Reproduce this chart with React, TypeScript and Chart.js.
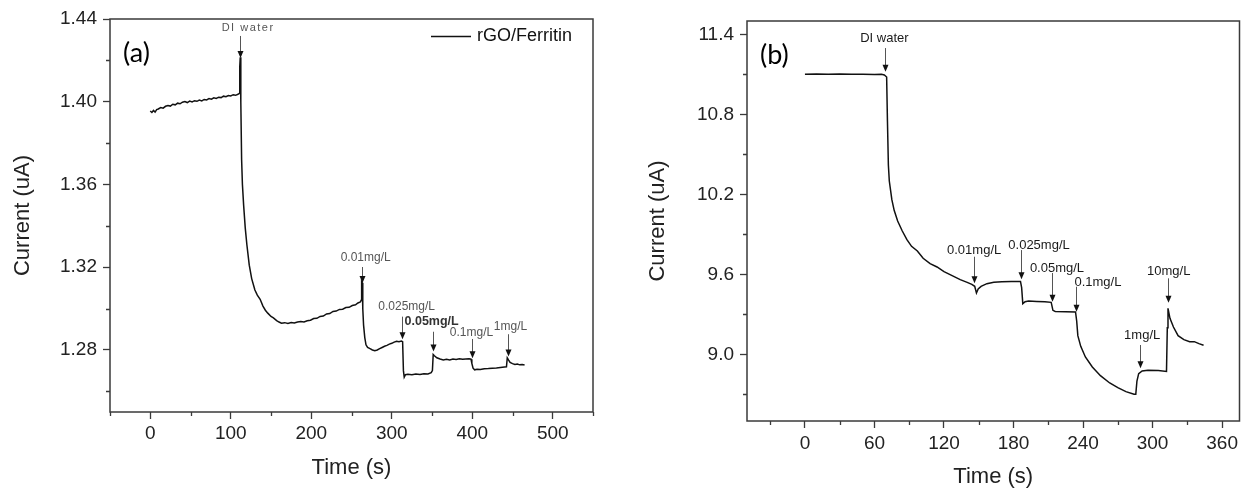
import React, { useEffect, useRef } from "react";
import { Chart, registerables } from "chart.js";

Chart.register(...registerables);

// ---------------- Panel (a): rGO/Ferritin ----------------
const seriesA: [number, number][] = [
  [0, 1.3955], [2, 1.3948], [4, 1.3958], [6, 1.395], [8, 1.3962], [10, 1.3965], [13, 1.3972], [16, 1.3969],
  [19, 1.3978], [22, 1.3982], [25, 1.3979], [28, 1.3988], [31, 1.3985], [34, 1.3993], [37, 1.399], [40, 1.3998],
  [43, 1.4001], [46, 1.3996], [49, 1.4003], [52, 1.3999], [55, 1.4005], [58, 1.4002], [61, 1.4008], [64, 1.4004],
  [67, 1.4011], [70, 1.4009], [73, 1.4015], [76, 1.4012], [79, 1.4019], [82, 1.4016], [85, 1.4022], [88, 1.402],
  [91, 1.4027], [94, 1.4024], [97, 1.403], [100, 1.4028], [103, 1.4034], [106, 1.4031], [109, 1.4036], [110.5, 1.404],
  [111.2, 1.417], [111.8, 1.4215], [112.5, 1.4], [113.5, 1.372], [114.5, 1.36], [116, 1.35], [118, 1.339], [120, 1.331],
  [123, 1.321], [126, 1.3145], [130, 1.309], [133, 1.3065], [136.5, 1.3045], [140, 1.3012], [143, 1.2992], [146, 1.2978],
  [150, 1.2962], [153, 1.2955], [157, 1.2942], [160, 1.2935], [163, 1.2929], [167, 1.2932], [171, 1.2928], [175, 1.2933],
  [179, 1.293], [183, 1.2935], [187, 1.2937], [191, 1.2935], [195, 1.2941], [199, 1.2944], [203, 1.2952], [207, 1.2953],
  [211, 1.2962], [215, 1.2964], [219, 1.2974], [223, 1.2976], [227, 1.2986], [231, 1.2988], [235, 1.2996], [239, 1.2997],
  [243, 1.3005], [247, 1.3006], [251, 1.3015], [255, 1.3018], [258, 1.3027], [261, 1.3032], [262, 1.304], [262.6, 1.313],
  [263.3, 1.3125], [264, 1.3], [265, 1.292], [266.5, 1.286], [268, 1.2825], [270, 1.2812], [273, 1.2806], [276, 1.28],
  [279, 1.2796], [282, 1.28], [285, 1.2806], [288, 1.2812], [291, 1.2818], [294, 1.2822], [297, 1.2828], [300, 1.2832],
  [303, 1.2838], [306, 1.2842], [309, 1.284], [312, 1.2843], [313.5, 1.284], [314.5, 1.27], [315.5, 1.2668], [317, 1.268],
  [320, 1.2682], [325, 1.268], [330, 1.2684], [335, 1.2681], [340, 1.2685], [345, 1.2684], [349, 1.269], [350.5, 1.27],
  [351.5, 1.2778], [353, 1.2772], [356, 1.2762], [360, 1.2756], [364, 1.2752], [368, 1.2755], [372, 1.2752], [376, 1.2756],
  [380, 1.2754], [384, 1.2757], [388, 1.2755], [392, 1.2756], [396, 1.2757], [398.5, 1.2755], [399.5, 1.2735], [401, 1.2712],
  [403, 1.2704], [406, 1.2707], [410, 1.2705], [415, 1.2709], [420, 1.271], [425, 1.2712], [430, 1.2713], [435, 1.2715],
  [440, 1.2717], [442.5, 1.2718], [443.5, 1.2762], [445, 1.2752], [447, 1.274], [450, 1.2734], [453, 1.273], [456, 1.2732],
  [459, 1.2728], [462, 1.273], [465, 1.2727],
];
const xMajorA = [0, 100, 200, 300, 400, 500];
const xMinorA = [-50, 50, 150, 250, 350, 450, 550];
const yMajorA = [1.28, 1.32, 1.36, 1.4, 1.44];
const yMinorA = [1.26, 1.3, 1.34, 1.38, 1.42];
const annLabelsA = ["DI water", "0.01mg/L", "0.025mg/L", "0.05mg/L", "0.1mg/L", "1mg/L"];
const annTimeA = [111.7, 262.7, 312.3, 351.5, 399.9, 444.5];
const annTipA = [1.4212, 1.3124, 1.2852, 1.2792, 1.276, 1.2768];
const annTailA = [1.4318, 1.3201, 1.2961, 1.2888, 1.2853, 1.2876];
const annTextTimeA = [121.6, 267.6, 318.5, 349.5, 399.1, 447.5];
const annTextValA = [1.4357, 1.3248, 1.3007, 1.2936, 1.2882, 1.2912];

// ---------------- Panel (b) ----------------
const seriesB: [number, number][] = [
  [0, 11.1], [10, 11.102], [20, 11.101], [30, 11.103], [40, 11.1], [50, 11.101], [60, 11.099], [66, 11.1],
  [68.5, 11.095], [70.5, 11.08], [71.2, 10.75], [72, 10.42], [72.8, 10.3], [75, 10.16], [77, 10.08], [80, 10.0],
  [84, 9.925], [88, 9.86], [92, 9.81], [97, 9.775], [102, 9.72], [108, 9.68], [114, 9.655], [120, 9.62],
  [127, 9.59], [134, 9.56], [140, 9.54], [144, 9.525], [146.5, 9.51], [148, 9.46], [149.5, 9.49], [152, 9.51],
  [157, 9.53], [163, 9.54], [170, 9.545], [178, 9.547], [186, 9.547], [187, 9.5], [188, 9.38], [190, 9.395],
  [193, 9.4], [200, 9.397], [207, 9.395], [212.5, 9.39], [214, 9.33], [216, 9.322], [225, 9.32], [233.5, 9.318],
  [234.5, 9.25], [235.5, 9.14], [238, 9.06], [242, 8.98], [248, 8.905], [255, 8.84], [263, 8.785], [270, 8.75],
  [277, 8.72], [284, 8.7], [285.5, 8.7], [286.5, 8.8], [288, 8.855], [291, 8.875], [296, 8.88], [305, 8.878],
  [312, 8.872], [312.7, 9.2], [313.3, 9.345], [315, 9.27], [318, 9.205], [322, 9.14], [327, 9.11], [332, 9.095],
  [336, 9.095], [340, 9.08], [344, 9.068],
];
const xMajorB = [0, 60, 120, 180, 240, 300, 360];
const xMinorB = [-30, 30, 90, 150, 210, 270, 330];
const yMajorB = [9.0, 9.6, 10.2, 10.8, 11.4];
const yMinorB = [8.7, 9.3, 9.9, 10.5, 11.1];
const annLabelsB = ["DI water", "0.01mg/L", "0.025mg/L", "0.05mg/L", "0.1mg/L", "1mg/L", "10mg/L"];
const annTimeB = [69.4, 146.3, 186.5, 213.4, 233.6, 288.9, 313.3];
const annTipB = [11.12, 9.533, 9.5625, 9.395, 9.32, 8.895, 9.387];
const annTailB = [11.297, 9.732, 9.782, 9.61, 9.507, 9.07, 9.57];
const annTextTimeB = [68.6, 146.0, 202.0, 217.5, 252.8, 291.0, 313.9];
const annTextValB = [11.372, 9.777, 9.82, 9.645, 9.54, 9.14, 9.62];

const FONT = "'Liberation Sans', Arial, sans-serif";
const AXIS = "#3a3a3a";

type PanelCfg = {
  series: [number, number][];
  xMin: number; xMax: number; yMin: number; yMax: number;
  xMajor: number[]; xMinor: number[]; yMajor: number[]; yMinor: number[];
  yDecimals: number;
  ann: { labels: string[]; time: number[]; tip: number[]; tail: number[]; textTime: number[]; textVal: number[] };
  annFont: number; annColor: string; annStyle: Record<string, { font?: string; color?: string; spacing?: string }>;
  panelLabel: string;
  legend?: string;
  width: number; left: number;
  padTop: number; padRight: number; yWidth: number; xHeight: number;
  yTitlePad: number; xTitlePad: number; xTickPad: number;
};

function makePlugin(cfg: PanelCfg) {
  return {
    id: "decor",
    afterDraw(chart: any) {
      const { ctx, chartArea: ca, scales } = chart;
      const xs = scales.x, ys = scales.y;
      ctx.save();
      // frame
      ctx.strokeStyle = AXIS;
      ctx.lineWidth = 1.5;
      ctx.strokeRect(ca.left, ca.top, ca.right - ca.left, ca.bottom - ca.top);
      // minor ticks
      ctx.lineWidth = 1.3;
      ctx.beginPath();
      for (const v of cfg.xMinor) {
        const px = Math.round(xs.getPixelForValue(v)) + 0.5;
        ctx.moveTo(px, ca.bottom);
        ctx.lineTo(px, ca.bottom + 4);
      }
      for (const v of cfg.yMinor) {
        const py = Math.round(ys.getPixelForValue(v)) + 0.5;
        ctx.moveTo(ca.left, py);
        ctx.lineTo(ca.left - 4, py);
      }
      ctx.stroke();
      // annotations
      const a = cfg.ann;
      for (let i = 0; i < a.labels.length; i++) {
        const x = Math.round(xs.getPixelForValue(a.time[i])) + 0.5;
        const yTip = ys.getPixelForValue(a.tip[i]);
        const yTail = ys.getPixelForValue(a.tail[i]);
        ctx.strokeStyle = "#555";
        ctx.lineWidth = 1;
        ctx.beginPath();
        ctx.moveTo(x, yTail);
        ctx.lineTo(x, yTip - 6);
        ctx.stroke();
        ctx.fillStyle = "#111";
        ctx.beginPath();
        ctx.moveTo(x - 3, yTip - 7);
        ctx.lineTo(x + 3, yTip - 7);
        ctx.lineTo(x, yTip);
        ctx.closePath();
        ctx.fill();
        const st = cfg.annStyle[a.labels[i]] || {};
        ctx.font = st.font || `${cfg.annFont}px ${FONT}`;
        ctx.fillStyle = st.color || cfg.annColor;
        (ctx as any).letterSpacing = st.spacing || "0px";
        ctx.textAlign = "center";
        ctx.textBaseline = "middle";
        ctx.fillText(a.labels[i], xs.getPixelForValue(a.textTime[i]), ys.getPixelForValue(a.textVal[i]));
        (ctx as any).letterSpacing = "0px";
      }
      // panel label
      ctx.fillStyle = "#000";
      ctx.font = `27px Lato, 'Open Sans', sans-serif`;
      ctx.textAlign = "left";
      ctx.textBaseline = "middle";
      ctx.fillText(cfg.panelLabel, ca.left + 13, ca.top + 34);
      // legend
      if (cfg.legend) {
        const ly = ca.top + 17.5;
        ctx.strokeStyle = "#111";
        ctx.lineWidth = 1.5;
        ctx.beginPath();
        ctx.moveTo(ca.right - 162, ly);
        ctx.lineTo(ca.right - 122, ly);
        ctx.stroke();
        ctx.font = `18px ${FONT}`;
        ctx.fillStyle = "#111";
        ctx.textAlign = "left";
        ctx.fillText(cfg.legend, ca.right - 116, ly);
      }
      ctx.restore();
    },
  };
}

function Panel({ cfg }: { cfg: PanelCfg }) {
  const ref = useRef<HTMLCanvasElement>(null);
  useEffect(() => {
    const tickFont = { family: FONT, size: 19 };
    const titleFont = { family: FONT, size: 22, lineHeight: 1 };
    const chart = new Chart(ref.current!, {
      type: "line",
      data: {
        datasets: [
          {
            label: cfg.legend || "series",
            data: cfg.series.map(([x, y]) => ({ x, y })),
            borderColor: "#111",
            borderWidth: 1.5,
            pointRadius: 0,
            fill: false,
            tension: 0,
          },
        ],
      },
      options: {
        responsive: false,
        animation: false,
        devicePixelRatio: 1,
        layout: { padding: { top: cfg.padTop, right: cfg.padRight, left: 0, bottom: 0 } },
        plugins: { legend: { display: false }, tooltip: { enabled: false } },
        scales: {
          x: {
            type: "linear",
            min: cfg.xMin,
            max: cfg.xMax,
            afterBuildTicks: (s: any) => { s.ticks = cfg.xMajor.map((v) => ({ value: v })); },
            afterFit: (s: any) => { s.height = cfg.xHeight; },
            grid: { display: true, drawOnChartArea: false, drawTicks: true, tickLength: 7, tickColor: AXIS, tickWidth: 1.3 },
            border: { display: false },
            ticks: { padding: cfg.xTickPad, color: "#222", font: tickFont, maxRotation: 0, autoSkip: false, callback: (v: any) => String(v) },
            title: { display: true, text: "Time (s)", color: "#222", font: titleFont, padding: { top: 0, bottom: cfg.xTitlePad } },
          },
          y: {
            type: "linear",
            min: cfg.yMin,
            max: cfg.yMax,
            afterBuildTicks: (s: any) => { s.ticks = cfg.yMajor.map((v) => ({ value: v })); },
            afterFit: (s: any) => { s.width = cfg.yWidth; },
            grid: { display: true, drawOnChartArea: false, drawTicks: true, tickLength: 7, tickColor: AXIS, tickWidth: 1.3 },
            border: { display: false },
            ticks: { padding: 6, color: "#222", font: tickFont, autoSkip: false, callback: (v: any) => Number(v).toFixed(cfg.yDecimals) },
            title: { display: true, text: "Current (uA)", color: "#222", font: titleFont, padding: { top: cfg.yTitlePad, bottom: 0 } },
          },
        },
      },
      plugins: [makePlugin(cfg)],
    } as any);
    return () => chart.destroy();
  }, [cfg]);
  return (
    <canvas
      ref={ref}
      width={cfg.width}
      height={488}
      style={{ position: "absolute", left: cfg.left, top: 0, width: cfg.width, height: 488 }}
    />
  );
}

const cfgA: PanelCfg = {
  series: seriesA,
  xMin: -50, xMax: 550, yMin: 1.25, yMax: 1.44,
  xMajor: xMajorA, xMinor: xMinorA, yMajor: yMajorA, yMinor: yMinorA,
  yDecimals: 2,
  ann: { labels: annLabelsA, time: annTimeA, tip: annTipA, tail: annTailA, textTime: annTextTimeA, textVal: annTextValA },
  annFont: 12, annColor: "#555",
  annStyle: {
    "DI water": { font: `11px ${FONT}`, spacing: "1.5px" },
    "0.05mg/L": { font: `bold 12.5px ${FONT}`, color: "#333" },
  },
  panelLabel: "(a)",
  legend: "rGO/Ferritin",
  width: 620, left: 0,
  padTop: 19, padRight: 27, yWidth: 110, xHeight: 76,
  yTitlePad: 12, xTitlePad: 9, xTickPad: 3,
};

const cfgB: PanelCfg = {
  series: seriesB,
  xMin: -50, xMax: 375, yMin: 8.5, yMax: 11.5,
  xMajor: xMajorB, xMinor: xMinorB, yMajor: yMajorB, yMinor: yMinorB,
  yDecimals: 1,
  ann: { labels: annLabelsB, time: annTimeB, tip: annTipB, tail: annTailB, textTime: annTextTimeB, textVal: annTextValB },
  annFont: 13, annColor: "#1a1a1a",
  annStyle: {},
  panelLabel: "(b)",
  width: 622, left: 620,
  padTop: 21, padRight: 1, yWidth: 127, xHeight: 67,
  yTitlePad: 27, xTitlePad: 0, xTickPad: 4,
};

export default function App() {
  return (
    <div style={{ position: "absolute", left: 0, top: 0, width: 1242, height: 488, background: "#fff", overflow: "hidden" }}>
      <Panel cfg={cfgA} />
      <Panel cfg={cfgB} />
    </div>
  );
}
